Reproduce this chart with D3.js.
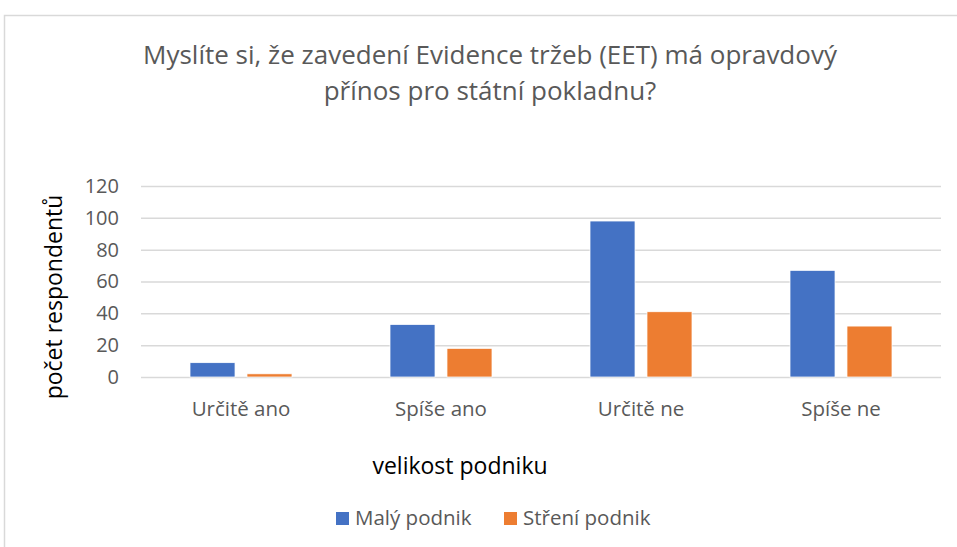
<!DOCTYPE html>
<html>
<head>
<meta charset="utf-8">
<script src="https://cdn.jsdelivr.net/npm/d3@7"></script>
<style>
  body { margin: 0; background: #fff; }
  svg { font-family: "Open Sans", sans-serif; }
</style>
</head>
<body>
<div id="chart"></div>
<script>
const categories = ["Určitě ano", "Spíše ano", "Určitě ne", "Spíše ne"];
const seriesNames = ["Malý podnik", "Stření podnik"];
const malyValues = [9, 33, 98, 67];
const stredniValues = [2, 18, 41, 32];
const yTicks = [0, 20, 40, 60, 80, 100, 120];
const colors = ["#4472C4", "#ED7D31"];

const width = 957, height = 547;
const margin = { left: 141, right: 16, top: 186, bottom: 170 };
const plotW = width - margin.left - margin.right;
const plotH = height - margin.top - margin.bottom;

const data = categories.map((c, i) => ({ cat: c, values: [malyValues[i], stredniValues[i]] }));

const svg = d3.select("#chart").append("svg")
    .attr("width", width)
    .attr("height", height);

// outer chart border
svg.append("rect")
    .attr("x", 4.5).attr("y", 15.5)
    .attr("width", width + 10).attr("height", height + 10)
    .attr("fill", "none").attr("stroke", "#d9d9d9").attr("stroke-width", 1.5);

// title
const title = svg.append("text")
    .attr("text-anchor", "middle")
    .attr("fill", "#595959")
    .style("font-size", "26px");
title.append("tspan").attr("x", 490).attr("y", 64).text("Myslíte si, že zavedení Evidence tržeb (EET) má opravdový");
title.append("tspan").attr("x", 490).attr("y", 100).text("přínos pro státní pokladnu?");

const g = svg.append("g").attr("transform", `translate(${margin.left},${margin.top})`);

let y = d3.scaleLinear().domain([0, 120]).range([plotH, 0]);
let x0 = d3.scaleBand().domain(categories).range([0, plotW]).padding(0);
let x1 = d3.scaleBand().domain(seriesNames).range([0, x0.bandwidth()])
    .paddingInner(0.21).paddingOuter(0.86);

// gridlines
g.append("g")
    .call(d3.axisLeft(y).tickValues(yTicks).tickSize(-plotW).tickFormat(""))
    .call(a => a.select(".domain").remove())
    .selectAll("line").attr("stroke", "#d9d9d9").attr("stroke-width", 1.5);

// y tick labels
g.append("g")
    .call(d3.axisLeft(y).tickValues(yTicks).tickSize(0).tickPadding(22))
    .call(a => a.select(".domain").remove())
    .selectAll("text")
    .attr("fill", "#595959")
    .style("font-size", "20px")
    .style("font-family", "Open Sans, sans-serif");

// x labels
g.append("g")
    .attr("transform", `translate(0,${plotH})`)
    .call(d3.axisBottom(x0).tickSize(0).tickPadding(24))
    .call(a => a.select(".domain").remove())
    .selectAll("text")
    .attr("fill", "#595959")
    .style("font-size", "20.5px")
    .style("font-family", "Open Sans, sans-serif");

// bars
g.append("g").selectAll("g").data(data).enter()
    .append("g")
    .attr("transform", d => `translate(${x0(d.cat)},0)`)
    .selectAll("rect")
    .data(d => d.values.map((v, i) => ({ key: seriesNames[i], value: v, i: i })))
    .enter().append("rect")
    .attr("x", d => x1(d.key))
    .attr("y", d => y(d.value))
    .attr("width", x1.bandwidth())
    .attr("height", d => plotH - y(d.value))
    .attr("fill", d => colors[d.i])
    .attr("stroke", "#fff").attr("stroke-width", 0.75);

// axis titles
svg.append("text")
    .attr("transform", "translate(62,297) rotate(-90)")
    .attr("text-anchor", "middle")
    .attr("fill", "#000")
    .style("font-size", "23px")
    .text("počet respondentů");

svg.append("text")
    .attr("x", 460).attr("y", 474)
    .attr("text-anchor", "middle")
    .attr("fill", "#000")
    .style("font-size", "23px")
    .text("velikost podniku");

// legend
const legend = svg.append("g").selectAll("g").data(seriesNames).enter()
    .append("g")
    .attr("transform", (d, i) => `translate(${[336, 504][i]},512)`);
legend.append("rect").attr("width", 13).attr("height", 13).attr("fill", (d, i) => colors[i]);
legend.append("text").attr("x", 19).attr("y", 13)
    .attr("fill", "#595959")
    .style("font-size", "20.5px")
    .text(d => d);
</script>
</body>
</html>
